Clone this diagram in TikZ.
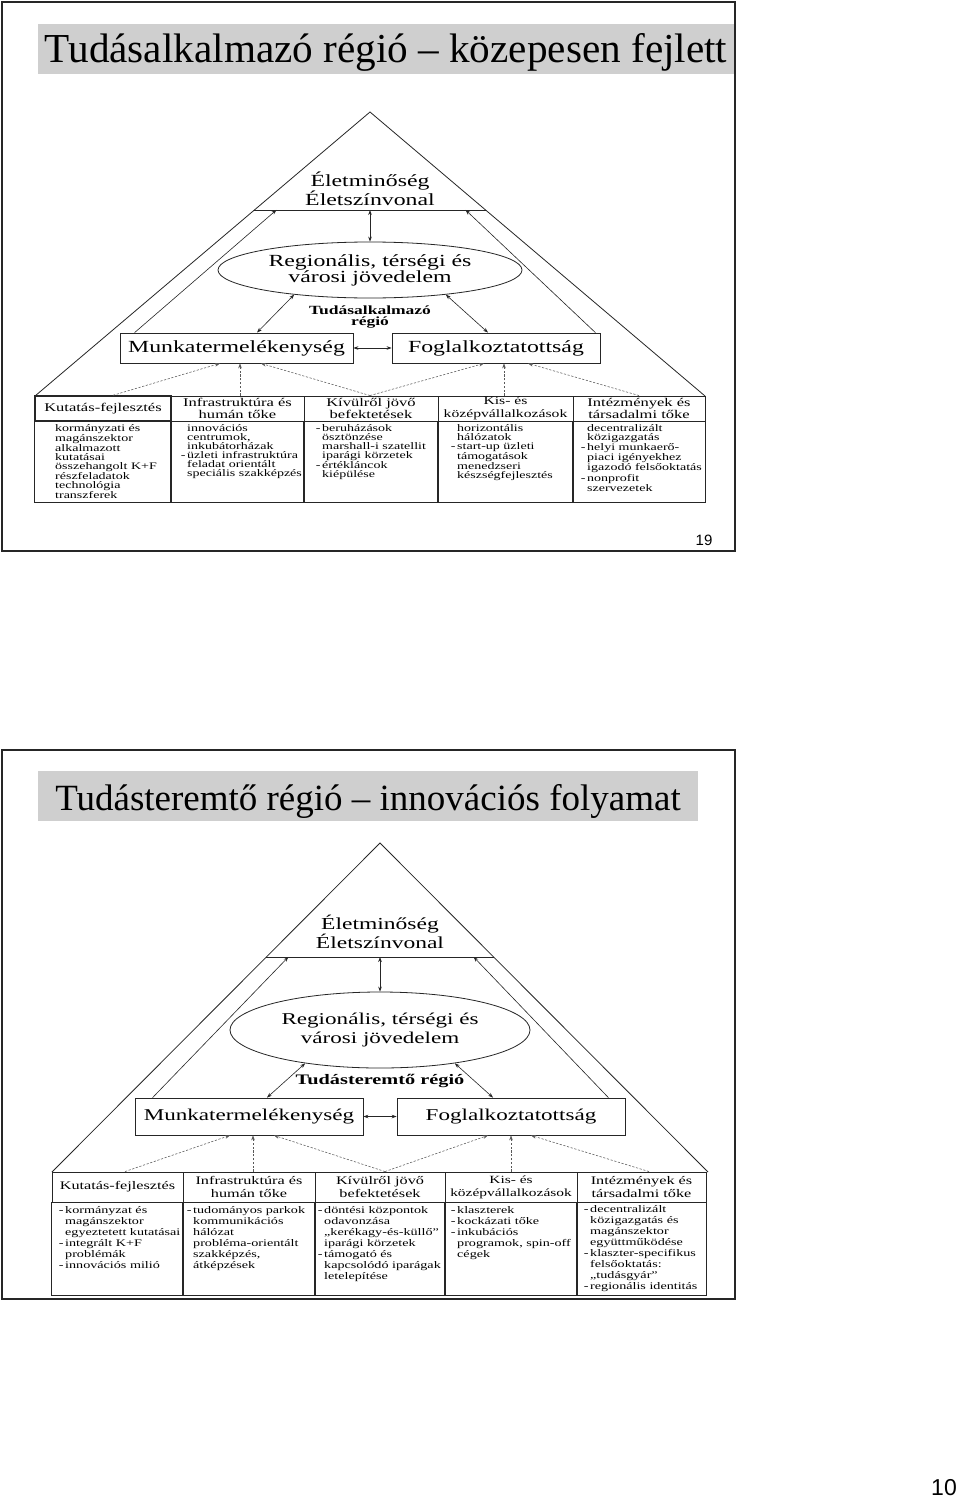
\documentclass[tikz,border=0pt]{standalone}
\usepackage{fontspec}
\setmainfont{Liberation Serif}
\newfontfamily\scanf[FakeStretch=1.4]{Liberation Serif}
\newfontfamily\sansf{Liberation Sans}
\usetikzlibrary{shapes.geometric,arrows.meta,calc}
\newcommand\myfs[2]{\fontsize{#1}{#2}\selectfont}
\newcommand\dsh{\llap{-\,}}
\begin{document}
\begin{tikzpicture}[x=1pt,y=-1pt,
  >={Stealth[length=5pt,width=3.6pt]},
  frame/.style={draw=black!85,line width=1.6pt},
  band/.style={fill=black!19,draw=none},
  pyr/.style={draw=black!85,line width=0.8pt},
  arr/.style={->,draw=black!85,line width=0.6pt},
  darr/.style={<->,draw=black!85,line width=0.6pt},
  dsharr/.style={->,draw=black!65,line width=0.55pt,dash pattern=on 2.2pt off 1.6pt},
  boxn/.style={draw=black!85,line width=0.8pt,inner sep=0pt},
  tbl/.style={draw=black!85,line width=0.9pt},
  hdrA/.style={tbl,inner sep=0pt,align=center,minimum height=25pt,font=\scanf\myfs{11.8}{12.5}},
  hdrB/.style={tbl,inner sep=0pt,align=center,minimum height=30pt,font=\scanf\myfs{11.6}{13}},
  bodyA/.style={anchor=north west,inner sep=0pt,align=left,font=\scanf\myfs{10}{8.9}},
  bodyB/.style={anchor=north west,inner sep=0pt,align=left,font=\scanf\myfs{10.1}{11}},
  ttl/.style={inner sep=0pt,anchor=base}
]
\useasboundingbox (0,0) rectangle (960,1501);
\fill[white] (0,0) rectangle (960,1501);

%================ SLIDE 1 ================
\fill[band] (38,24) rectangle (735,74);
\node[ttl,font=\myfs{41.2}{44}] (t1) at (386,63) {Tudásalkalmazó régió – közepesen fejlett};

\coordinate (apexA) at (370,112);
\coordinate (blA) at (35,396);
\coordinate (brA) at (705,396);
\coordinate (lA1) at ($(apexA)!0.345!(blA)$);
\coordinate (lA2) at ($(apexA)!0.345!(brA)$);
\coordinate (midA) at ($(lA1)!0.5!(lA2)$);
\draw[pyr] (blA) -- (apexA) -- (brA);
\draw[pyr] (lA1) -- (lA2);

\node[inner sep=0pt,align=center,font=\scanf\myfs{17}{16}] (elA) at (370,189) {Életminőség\\Életszínvonal};
\node[ellipse,boxn,minimum width=304pt,minimum height=56pt,align=center,font=\scanf\myfs{17}{16}] (ellA) at (370,270) {Regionális, térségi és\\városi jövedelem};
\node[inner sep=0pt,align=center,font=\scanf\bfseries\myfs{12.5}{11.5}] (tdA) at (370,317) {Tudásalkalmazó\\régió};
\node[boxn,minimum width=233pt,minimum height=30pt,font=\scanf\myfs{17}{20}] (munkaA) at (236.5,348) {Munkatermelékenység};
\node[boxn,minimum width=208pt,minimum height=30pt,font=\scanf\myfs{17}{20}] (foglA) at (496,348) {Foglalkoztatottság};

\draw[darr] (midA) -- (ellA.north);
\draw[darr] (ellA.198) -- ($(munkaA.north)+(20.5,0)$);
\draw[darr] (ellA.342) -- ($(foglA.north)+(-8,0)$);
\draw[darr] (munkaA.east) -- (foglA.west);
\draw[arr] ($(munkaA.north west)+(15,0)$) -- ($(lA1)+(22,0)$);
\draw[arr] ($(foglA.north east)+(-5,0)$) -- ($(lA2)+(-20,0)$);

\node[hdrA,minimum width=136pt,line width=1.4pt] (h1A) at (103,408.5) {Kutatás-fejlesztés};
\node[hdrA,minimum width=133pt] (h2A) at (237.5,408.5) {Infrastruktúra és\\humán tőke};
\node[hdrA,minimum width=134pt] (h3A) at (371,408.5) {Kívülről jövő\\befektetések};
\node[hdrA,minimum width=135pt,font=\scanf\myfs{11.2}{12.5}] (h4A) at (505.5,408.5) {Kis- és\\középvállalkozások};
\node[hdrA,minimum width=132pt] (h5A) at (639,408.5) {Intézmények és\\társadalmi tőke};
\foreach \h in {h1A,h2A,h3A,h4A,h5A}
  \draw[tbl] (\h.south west) rectangle ($(\h.south east)+(0,81)$);

\draw[dsharr] ($(h1A.north)+(10,0)$) -- ($(munkaA.south)+(-16.5,0)$);
\draw[dsharr] ($(h2A.north)+(2.5,0)$) -- ($(munkaA.south)+(3.5,0)$);
\draw[dsharr] ($(h3A.north)+(-1,0)$) -- ($(munkaA.south)+(24.5,0)$);
\draw[dsharr] ($(h3A.north)+(-1,0)$) -- ($(foglA.south)+(-12,0)$);
\draw[dsharr] ($(h4A.north)+(-1.5,0)$) -- ($(foglA.south)+(8,0)$);
\draw[dsharr] (h5A.north) -- ($(foglA.south)+(32,0)$);

\node[bodyA] (b1A) at (55,424.5) {kormányzati és\\magánszektor\\alkalmazott\\kutatásai\\összehangolt K+F\\részfeladatok\\technológia\\transzferek};
\node[bodyA] (b2A) at (187,424.5) {innovációs\\centrumok,\\inkubátorházak\\\dsh üzleti infrastruktúra\\feladat orientált\\speciális szakképzés};
\node[bodyA] (b3A) at (322,424.5) {\dsh beruházások\\ösztönzése\\marshall-i szatellit\\iparági körzetek\\\dsh értékláncok\\kiépülése};
\node[bodyA] (b4A) at (457,424.5) {horizontális\\hálózatok\\\dsh start-up üzleti\\támogatások\\menedzseri\\készségfejlesztés};
\node[bodyA] (b5A) at (587,424.5) {decentralizált\\közigazgatás\\\dsh helyi munkaerő-\\piaci igényekhez\\igazodó felsőoktatás\\\dsh nonprofit\\szervezetek};

\node[inner sep=0pt,font=\sansf\myfs{15}{18}] (pg1) at (704,540) {19};
\draw[frame] (2,2) rectangle (735,551);

%================ SLIDE 2 ================
\fill[band] (38,771) rectangle (698,821);
\node[ttl,font=\myfs{37}{42}] (t2) at (368,810) {Tudásteremtő régió – innovációs folyamat};

\coordinate (apexB) at (380,843);
\coordinate (blB) at (52,1172);
\coordinate (brB) at (708,1172);
\coordinate (lB1) at ($(apexB)!0.3465!(blB)$);
\coordinate (lB2) at ($(apexB)!0.3465!(brB)$);
\coordinate (midB) at ($(lB1)!0.5!(lB2)$);
\draw[pyr] (blB) -- (apexB) -- (brB);
\draw[pyr] (lB1) -- (lB2);

\node[inner sep=0pt,align=center,font=\scanf\myfs{16.8}{18}] (elB) at (380,932) {Életminőség\\Életszínvonal};
\node[ellipse,boxn,minimum width=300pt,minimum height=76pt,align=center,font=\scanf\myfs{16.5}{19}] (ellB) at (380,1030) {Regionális, térségi és\\városi jövedelem};
\node[inner sep=0pt,font=\scanf\bfseries\myfs{14.5}{16}] (tdB) at (380,1081) {Tudásteremtő régió};
\node[boxn,minimum width=228pt,minimum height=37pt,font=\scanf\myfs{16.5}{20}] (munkaB) at (249,1116.5) {Munkatermelékenység};
\node[boxn,minimum width=228pt,minimum height=37pt,font=\scanf\myfs{16.5}{20}] (foglB) at (511,1116.5) {Foglalkoztatottság};

\draw[darr] (midB) -- (ellB.north);
\draw[darr] (ellB.204) -- ($(munkaB.north)+(18,0)$);
\draw[darr] (ellB.336) -- ($(foglB.north)+(-18,0)$);
\draw[darr] (munkaB.east) -- (foglB.west);
\draw[arr] ($(munkaB.north west)+(18,0)$) -- ($(lB1)+(22,0)$);
\draw[arr] ($(foglB.north east)+(-17,0)$) -- ($(lB2)+(-20,0)$);

\node[hdrB,minimum width=131pt] (h1B) at (117.5,1187) {Kutatás-fejlesztés};
\node[hdrB,minimum width=132pt] (h2B) at (249,1187) {Infrastruktúra és\\humán tőke};
\node[hdrB,minimum width=130pt] (h3B) at (380,1187) {Kívülről jövő\\befektetések};
\node[hdrB,minimum width=132pt,font=\scanf\myfs{11}{13}] (h4B) at (511,1187) {Kis- és\\középvállalkozások};
\node[hdrB,minimum width=129pt] (h5B) at (641.5,1187) {Intézmények és\\társadalmi tőke};
\foreach \h in {h1B,h2B,h3B,h4B,h5B}
  \draw[tbl] (\h.south west) rectangle ($(\h.south east)+(0,93)$);

\draw[dsharr] ($(h1B.north)+(7.5,0)$) -- ($(munkaB.south)+(-19,0)$);
\draw[dsharr] ($(h2B.north)+(4,0)$) -- ($(munkaB.south)+(4,0)$);
\draw[dsharr] ($(h3B.north)+(5,0)$) -- ($(munkaB.south)+(25,0)$);
\draw[dsharr] ($(h3B.north)+(5,0)$) -- ($(foglB.south)+(-23,0)$);
\draw[dsharr] (h4B.north) -- (foglB.south);
\draw[dsharr] ($(h5B.north)+(7.5,0)$) -- ($(foglB.south)+(20,0)$);

\node[bodyB] (b1B) at (65,1206) {\dsh kormányzat és\\magánszektor\\egyeztetett kutatásai\\\dsh integrált K+F\\problémák\\\dsh innovációs milió};
\node[bodyB] (b2B) at (193,1206) {\dsh tudományos parkok\\kommunikációs\\hálózat\\probléma-orientált\\szakképzés,\\átképzések};
\node[bodyB] (b3B) at (324,1206) {\dsh döntési központok\\odavonzása\\„kerékagy-és-küllő”\\iparági körzetek\\\dsh támogató és\\kapcsolódó iparágak\\letelepítése};
\node[bodyB] (b4B) at (457,1206) {\dsh klaszterek\\\dsh kockázati tőke\\\dsh inkubációs\\programok, spin-off\\cégek};
\node[bodyB] (b5B) at (590,1205.5) {\dsh decentralizált\\közigazgatás és\\magánszektor\\együttműködése\\\dsh klaszter-specifikus\\felsőoktatás:\\„tudásgyár”\\\dsh regionális identitás};

\draw[frame] (2,750) rectangle (735,1299);
\node[inner sep=0pt,font=\sansf\myfs{23}{26}] (pg2) at (944,1488) {10};
\end{tikzpicture}
\end{document}
